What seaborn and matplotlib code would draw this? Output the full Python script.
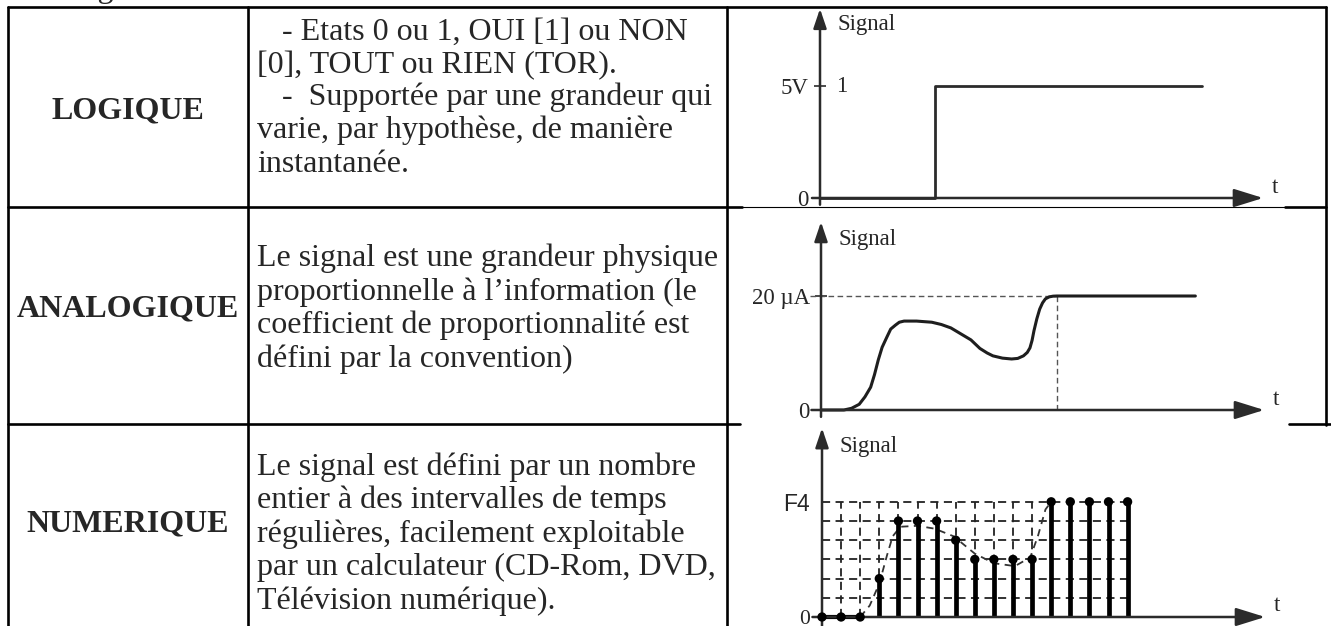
import matplotlib
matplotlib.use("Agg")
import matplotlib.pyplot as plt
import numpy as np
import seaborn as sns

W, H = 1331, 626
SERIF = "Liberation Serif"
SANS = "Liberation Sans"
AXIS_C = "#2b2b2b"

# ---- table content ----
CATEGORIES = ["LOGIQUE", "ANALOGIQUE", "NUMERIQUE"]
DESCRIPTIONS = [
    ["- Etats 0 ou 1, OUI [1] ou NON",
     "[0], TOUT ou RIEN (TOR).",
     "-  Supportée par une grandeur qui",
     "varie, par hypothèse, de manière",
     "instantanée."],
    ["Le signal est une grandeur physique",
     "proportionnelle à l\u2019information (le",
     "coefficient de proportionnalité est",
     "défini par la convention)"],
    ["Le signal est défini par un nombre",
     "entier à des intervalles de temps",
     "régulières, facilement exploitable",
     "par un calculateur (CD-Rom, DVD,",
     "Télévision numérique)."],
]
INDENTED = [(0, 0), (0, 2)]

# ---- signal data (time in sampling periods) ----
LOGIC_T = [0, 6, 20]
LOGIC_V = [0, 1, 1]
LOGIC_LEVELS = ["0", "5V"]

ANALOG_T = [0.0, 1.2, 1.6, 2.0, 2.3, 2.6, 2.8, 3.0, 3.2, 3.45, 3.65, 3.9, 4.1, 4.35,
            5.0, 5.8, 6.3, 6.8, 7.3, 7.85, 8.32, 8.7, 9.0, 9.5, 9.98, 10.3, 10.6,
            10.8, 10.94, 11.05, 11.15, 11.3, 11.45, 11.6, 11.75, 11.95, 12.15,
            12.35, 19.6]
ANALOG_V = [0, 0, 0.3, 1.0, 2.3, 4.0, 6.2, 8.8, 11.0, 12.8, 14.2, 14.9, 15.4, 15.6,
            15.6, 15.4, 15.0, 14.4, 13.4, 12.3, 10.8, 10.0, 9.5, 9.1, 8.95, 9.05,
            9.5, 10.1, 10.9, 12.2, 13.9, 16.0, 17.7, 18.8, 19.5, 19.85, 19.97,
            20, 20]
ANALOG_MAX = 20
ANALOG_LEVELS = ["0", "20 \u00b5A"]

SAMPLE_N = list(range(17))
SAMPLE_V = [0, 0, 0, 2, 5, 5, 5, 4, 3, 3, 3, 3, 6, 6, 6, 6, 6]
DIG_CURVE_T = [2.0, 2.5, 3.0, 3.4, 3.7, 4.1, 5.0, 5.9, 6.9, 8.0, 9.0, 10.1, 10.9,
               11.3, 11.7, 12.0]
DIG_CURVE_V = [0, 0.6, 1.74, 3.2, 4.2, 4.7, 4.75, 4.6, 4.2, 3.3, 2.8, 2.65, 3.1,
               4.2, 5.6, 6.0]
DIG_MAX = 6
DIG_LEVELS = ["0", "F4"]


def px_axes(fig, rect, origin, scale):
    left, top, right, bottom = rect
    x0, y0 = origin
    sx, sy = scale
    ax = fig.add_axes([left / W, 1 - bottom / H, (right - left) / W, (bottom - top) / H])
    ax.set_xlim((left - x0) / sx, (right - x0) / sx)
    ax.set_ylim((y0 - bottom) / sy, (y0 - top) / sy)
    ax.patch.set_alpha(0)
    for s in ax.spines.values():
        s.set_visible(False)
    ax.spines["left"].set_position(("data", 0))
    ax.set_xticks([])
    return ax


def axis_arrows(ax, x_from, x_to, y_from, y_to, t_y):
    ax.annotate("", xy=(x_to, 0), xytext=(x_from, 0), annotation_clip=False,
                arrowprops=dict(arrowstyle="-|>,head_length=0.9,head_width=0.28",
                                mutation_scale=20, lw=1.8, color=AXIS_C,
                                shrinkA=0, shrinkB=0))
    ax.annotate("", xy=(0, y_to), xytext=(0, y_from), annotation_clip=False,
                arrowprops=dict(arrowstyle="-|>,head_length=0.65,head_width=0.22",
                                mutation_scale=18, lw=1.8, color=AXIS_C,
                                shrinkA=0, shrinkB=0))
    ax.text(x_to + 0.45, t_y, "t", fontsize=16.5, family=SERIF, va="baseline")


def level_ticks(ax, top, labels, length, pad, top_family=SERIF):
    ax.set_yticks([0, top])
    ax.set_yticklabels(labels)
    ax.tick_params(axis="y", left=True, labelleft=True, direction="inout",
                   length=length, width=1.2, color=AXIS_C, pad=pad,
                   labelsize=16.5)
    lbls = ax.get_yticklabels()
    lbls[0].set_family(SERIF)
    lbls[1].set_family(top_family)


def main():
    sns.set_style("white")
    plt.rcParams["font.family"] = [SERIF, "DejaVu Serif"]

    fig = plt.figure(figsize=(W / 100, H / 100), dpi=100)
    bg = fig.add_axes([0, 0, 1, 1])
    bg.set_xlim(0, W)
    bg.set_ylim(H, 0)
    bg.axis("off")

    # caption cut at the top of the page
    bg.text(-2, -3, "ou de signaux", fontsize=23, family=SERIF, va="baseline")

    # table frame
    lw = 1.9
    bg.plot([8, 1326], [7, 7], color="black", lw=lw)
    for x in (8, 248, 727):
        bg.plot([x, x], [7, H], color="black", lw=lw)
    bg.plot([1326, 1326], [7, 425], color="black", lw=lw)
    bg.plot([8, 742], [207, 207], color="black", lw=lw)
    bg.plot([742, 1285], [207, 207], color="black", lw=0.8)
    bg.plot([1285, 1326], [207, 207], color="black", lw=lw)
    bg.plot([8, 740], [424, 424], color="black", lw=lw)
    bg.plot([1289, W], [424, 424], color="black", lw=lw)

    label_base = [118, 316, 531]
    text_base = [[40, 73, 105, 138, 172],
                 [266, 300, 333, 367],
                 [475, 508, 542, 575, 609]]
    for i, cat in enumerate(CATEGORIES):
        bg.text(128, label_base[i], cat, fontsize=23, fontweight="bold",
                family=SERIF, ha="center", va="baseline")
        for j, line in enumerate(DESCRIPTIONS[i]):
            x = 282 if (i, j) in INDENTED else 257
            bg.text(x, text_base[i][j], line, fontsize=23, family=SERIF,
                    va="baseline")

    # ---- LOGIQUE ----
    ax1 = px_axes(fig, (730, 8, 1320, 206), (820, 198), (19.1, 112))
    axis_arrows(ax1, -0.42, 23.2, -0.06, 1.69, 0.045)
    sns.lineplot(x=LOGIC_T, y=LOGIC_V, ax=ax1, drawstyle="steps-post",
                 estimator=None, color=AXIS_C, lw=2)
    level_ticks(ax1, 1, LOGIC_LEVELS, 8, 4)
    ax1.text(0.85, 1, "1", fontsize=16.5, family=SERIF, va="center")
    ax1.text(0.9, 1.5, "Signal", fontsize=16.5, family=SERIF, va="baseline")

    # ---- ANALOGIQUE ----
    ax2 = px_axes(fig, (730, 212, 1320, 422), (821, 410), (19.1, 5.7))
    axis_arrows(ax2, -0.5, 23.2, -1.2, 33.0, 0.9)
    t_end = ANALOG_T[ANALOG_V.index(ANALOG_MAX)]
    ax2.hlines(ANALOG_MAX, -0.6, t_end, colors="#555555", lw=1.0,
               linestyles=(0, (4, 2.5)))
    ax2.vlines(t_end, 0, ANALOG_MAX, colors="#555555", lw=1.0,
               linestyles=(0, (4, 2.5)))
    sns.lineplot(x=ANALOG_T, y=ANALOG_V, ax=ax2, sort=False, estimator=None,
                 color="#1e1e1e", lw=2.2)
    level_ticks(ax2, ANALOG_MAX, ANALOG_LEVELS, 8, 4)
    ax2.text(0.9, 28.9, "Signal", fontsize=16.5, family=SERIF, va="baseline")

    # ---- NUMERIQUE ----
    ax3 = px_axes(fig, (730, 426, 1320, 626), (822, 617), (19.1, 19.2))
    axis_arrows(ax3, -0.5, 23.2, -0.5, 9.84, 0.3)
    grid_style = dict(colors="#222222", lw=1.3, linestyles=(0, (4.5, 3)))
    ax3.hlines(list(range(1, DIG_MAX + 1)), 0, SAMPLE_N[-1], **grid_style)
    ax3.vlines(SAMPLE_N[1:], 0, DIG_MAX, **grid_style)
    sns.lineplot(x=DIG_CURVE_T, y=DIG_CURVE_V, ax=ax3, sort=False,
                 estimator=None, color="#333333", lw=1.3, linestyle=(0, (4, 3)))
    ax3.vlines(SAMPLE_N, 0, SAMPLE_V, colors="black", lw=3.4)
    held = [n for n, v in zip(SAMPLE_N, SAMPLE_V) if v == 0]
    sns.lineplot(x=held, y=[0] * len(held), ax=ax3, color="black", lw=3)
    sns.scatterplot(x=SAMPLE_N, y=SAMPLE_V, ax=ax3, s=45, color="black",
                    edgecolor="none", zorder=5)
    level_ticks(ax3, DIG_MAX, DIG_LEVELS, 0, 9, top_family=SANS)
    ax3.get_yticklabels()[0].set_fontsize(15.5)
    ax3.text(0.9, 8.6, "Signal", fontsize=16.5, family=SERIF, va="baseline")

    for ax in (ax1, ax2, ax3):
        ax.set_xlabel("")
        ax.set_ylabel("")

    fig.savefig("out.png", dpi=100)
    plt.close(fig)


if __name__ == "__main__":
    main()
